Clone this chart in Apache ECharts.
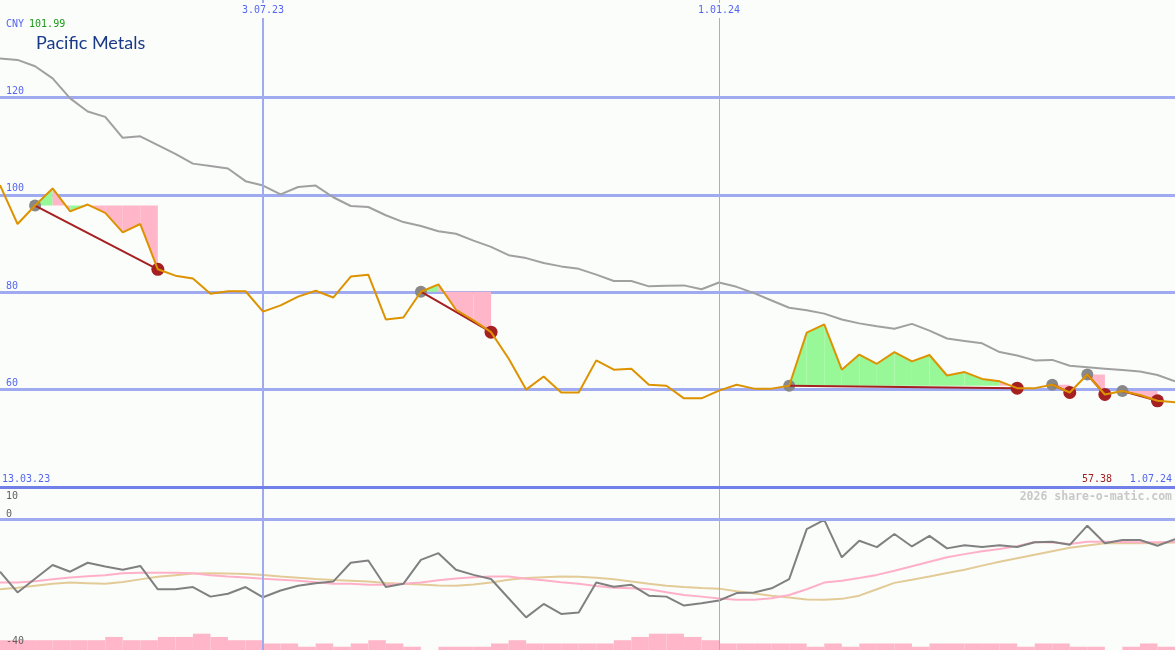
<!DOCTYPE html>
<html><head><meta charset="utf-8">
<script src="https://cdn.jsdelivr.net/npm/echarts@6/dist/echarts.min.js"></script>
<style>html,body{margin:0;padding:0;background:#fbfdfb}#c{width:1175px;height:650px}</style>
</head><body><div id="c"></div>
<script>
// ---------- data ----------
const companyName = 'Pacific Metals';
const currency = 'CNY';
const startLabel = '13.03.23';
const endLabel = '1.07.24';
const watermark = '2026 share-o-matic.com';
const dateTickIndex = [15, 41];
const dateTickLabels = ['3.07.23', '1.01.24'];
const priceTicks = [60, 80, 100, 120];
const indicatorTicks = [10, 0, -40];

// weekly closing price (index 0..67)
const price = [101.99, 94.0, 97.8, 101.3, 96.6, 98.0, 96.3, 92.3, 94.0, 84.7,
  83.4, 82.8, 79.7, 80.2, 80.2, 76.0, 77.3, 79.1, 80.3, 78.9,
  83.2, 83.6, 74.4, 74.8, 80.1, 81.6, 76.4, 74.2, 71.8, 66.4,
  60.0, 62.7, 59.4, 59.4, 66.0, 64.1, 64.3, 61.0, 60.8, 58.2,
  58.2, 59.8, 61.0, 60.2, 60.2, 60.8, 71.7, 73.4, 64.1, 67.2,
  65.3, 67.7, 65.8, 67.1, 62.9, 63.6, 62.2, 61.7, 60.3, 60.3,
  61.0, 59.4, 63.1, 59.0, 59.7, 58.9, 57.7, 57.38];
// moving average (grey)
const priceAvg = [128.0, 127.7, 126.4, 123.9, 119.8, 117.1, 116.0, 111.7, 112.0, 110.2,
  108.4, 106.4, 105.9, 105.4, 102.8, 101.9, 100.1, 101.6, 101.9, 99.5,
  97.7, 97.5, 95.8, 94.4, 93.6, 92.5, 92.0, 90.6, 89.3, 87.6,
  87.0, 86.0, 85.3, 84.8, 83.6, 82.3, 82.3, 81.2, 81.3, 81.4,
  80.6, 82.0, 81.1, 79.8, 78.3, 76.8, 76.3, 75.6, 74.4, 73.6,
  73.0, 72.5, 73.5, 72.1, 70.5, 70.0, 69.5, 67.7, 67.0, 66.0,
  66.1, 64.9, 64.6, 64.3, 64.0, 63.7, 63.0, 61.7];
const buyIdx = [2, 24, 45, 60, 62, 64];
const sellIdx = [9, 28, 58, 61, 63, 66];

// lower panel indicator
const momentum = [-16.5, -23.0, -18.7, -14.4, -16.5, -13.7, -14.9, -15.9, -14.7, -22.0,
  -22.0, -21.3, -24.3, -23.4, -21.3, -24.5, -22.4, -20.9, -20.1, -19.6,
  -13.7, -13.0, -21.3, -20.3, -12.8, -10.7, -15.9, -17.5, -18.8, -24.8,
  -30.8, -26.6, -29.7, -29.3, -19.9, -21.2, -20.6, -24.0, -24.3, -27.1,
  -26.4, -25.5, -23.2, -23.0, -21.7, -18.8, -3.2, -0.3, -12.0, -6.8,
  -8.8, -4.7, -8.6, -5.3, -9.2, -8.2, -8.8, -8.2, -8.8, -7.3,
  -7.1, -8.1, -2.1, -7.6, -6.6, -6.6, -8.4, -6.3];
const momentumFast = [-19.9, -19.9, -19.5, -18.9, -18.3, -17.9, -17.6, -17.0, -16.8, -16.8,
  -16.8, -17.0, -17.6, -18.0, -18.3, -18.7, -19.0, -19.3, -19.8, -20.3,
  -20.3, -20.6, -20.6, -20.3, -19.9, -19.2, -18.6, -18.2, -18.0, -18.0,
  -18.7, -19.2, -19.8, -20.3, -21.0, -21.5, -21.7, -22.0, -22.9, -23.8,
  -24.3, -24.9, -25.3, -25.3, -24.8, -23.8, -22.0, -19.9, -19.3, -18.5,
  -17.5, -16.2, -14.8, -13.4, -12.0, -11.0, -10.1, -9.4, -8.5, -7.2,
  -7.4, -7.8, -7.1, -7.1, -7.2, -7.3, -7.3, -7.1];
const momentumSlow = [-22.0, -21.5, -20.9, -20.3, -19.9, -20.1, -20.3, -19.7, -18.9, -18.1,
  -17.6, -17.1, -17.0, -17.1, -17.2, -17.5, -18.0, -18.4, -18.8, -19.1,
  -19.3, -19.6, -20.0, -20.3, -20.5, -20.8, -20.9, -20.5, -19.9, -19.0,
  -18.5, -18.2, -18.0, -18.1, -18.4, -18.9, -19.6, -20.3, -20.9, -21.3,
  -21.6, -21.8, -22.6, -23.3, -24.0, -24.6, -25.2, -25.3, -25.0, -24.0,
  -22.0, -20.0, -19.0, -18.0, -16.9, -15.9, -14.6, -13.4, -12.3, -11.2,
  -10.1, -9.0, -8.3, -7.6, -7.6, -7.6, -7.5, -7.4];
// volume blocks (relative units), one per week interval
const volume = [3, 3, 3, 3, 3, 3, 4, 3, 3, 4,
  4, 5, 4, 3, 3, 2, 2, 1, 2, 1,
  2, 3, 2, 1, 0, 1, 1, 1, 2, 3,
  2, 2, 2, 2, 2, 3, 4, 5, 5, 4,
  3, 2, 2, 2, 2, 2, 1, 2, 1, 2,
  2, 2, 1, 2, 2, 2, 2, 2, 1, 2,
  2, 1, 1, 0, 1, 2, 1];

// ---------- build ----------
const N = price.length - 1;
const MONO = 'DejaVu Sans Mono';
const GRIDC = '#a0aaf0';
const BG = '#fbfdfb';
const pairs = arr => arr.map((v, i) => [i, v]);

const fillData = [];
buyIdx.forEach((b, t) => {
  const s = sellIdx[t], e = price[b];
  for (let k = b; k < s; k++) fillData.push([k, k + 1, e, price[k], price[k + 1]]);
});
const tradeLines = buyIdx.map((b, t) => ({ coords: [[b, price[b]], [sellIdx[t], price[sellIdx[t]]]] }));

const monoText = (color, extra) => Object.assign({ color: color, fontFamily: MONO, fontSize: 10, fontWeight: 'normal', lineHeight: 12 }, extra || {});

const chart = echarts.init(document.getElementById('c'), null, { renderer: 'canvas' });
chart.setOption({
  animation: false,
  backgroundColor: BG,
  title: [
    { left: 6, top: 15, padding: 0, text: '{a|' + currency + '} {b|' + price[0].toFixed(2) + '}',
      textStyle: { fontWeight: 'normal', rich: { a: monoText('#5566ee'), b: monoText('#1a9a1a') } } },
    { left: 36, top: 33, padding: 0, text: companyName,
      textStyle: { color: '#183a88', fontFamily: 'Lato', fontSize: 18, fontWeight: 'normal', lineHeight: 20 } },
    { left: 2, top: 473, padding: 0, text: startLabel, textStyle: monoText('#5566ee') },
    { right: 63, top: 473, padding: 0, text: price[N].toFixed(2), textStyle: monoText('#a02020') },
    { right: 3, top: 473, padding: 0, text: endLabel, textStyle: monoText('#5566ee') },
    { right: 3, top: 491, padding: 0, text: watermark,
      textStyle: { color: '#c8c8c8', fontFamily: MONO, fontSize: 11.5, fontWeight: 'bold', lineHeight: 13 } }
  ],
  grid: [
    { left: 0, right: 0, top: 0, height: 487 },
    { left: 0, right: 0, top: 487, height: 163 }
  ],
  xAxis: [
    { gridIndex: 0, type: 'value', min: 0, max: N, position: 'top', z: 10,
      axisLine: { show: false, onZero: false }, axisTick: { show: false }, splitLine: { show: false },
      axisLabel: { inside: true, margin: 3, customValues: dateTickIndex,
        formatter: v => dateTickLabels[dateTickIndex.indexOf(v)],
        color: '#5566ee', fontFamily: MONO, fontSize: 10, lineHeight: 10,
        backgroundColor: BG, padding: [2, 3, 3, 3] } },
    { gridIndex: 1, type: 'value', min: 0, max: N, position: 'top', z: 10,
      axisLine: { show: true, onZero: false, lineStyle: { color: '#7080e8', width: 3 } },
      axisTick: { show: false }, splitLine: { show: false }, axisLabel: { show: false } }
  ],
  yAxis: [
    { gridIndex: 0, type: 'value', position: 'left', min: 40, max: 140, interval: 20,
      axisLine: { show: false }, axisTick: { show: false },
      splitLine: { show: true, showMinLine: false, showMaxLine: false, lineStyle: { color: GRIDC, width: 3 } },
      axisLabel: { inside: true, margin: 6, customValues: priceTicks, verticalAlign: 'bottom',
        color: '#5566ee', fontFamily: MONO, fontSize: 10, lineHeight: 10, padding: [0, 0, 1, 0] } },
    { gridIndex: 1, type: 'value', position: 'left', offset: 0, min: -41, max: 10, z: 10,
      axisLine: { show: false, onZero: false }, axisTick: { show: false }, splitLine: { show: false },
      axisLabel: { inside: true, margin: 6, customValues: indicatorTicks.filter(v => v < 10), verticalAlign: 'bottom',
        color: '#606060', fontFamily: MONO, fontSize: 10, lineHeight: 10, padding: [0, 0, 0, 0] } },
    { gridIndex: 1, type: 'value', position: 'left', offset: 0, min: -41, max: 10, z: 10,
      axisLine: { show: false, onZero: false }, axisTick: { show: false }, splitLine: { show: false },
      axisLabel: { inside: true, margin: 6, customValues: indicatorTicks.filter(v => v >= 10), verticalAlign: 'top',
        color: '#606060', fontFamily: MONO, fontSize: 10, lineHeight: 10, padding: [4, 0, 0, 0] } },
    { gridIndex: 1, type: 'value', position: 'left', min: 0, max: 50, show: false }
  ],
  series: [
    { type: 'line', xAxisIndex: 0, yAxisIndex: 0, data: pairs(priceAvg), showSymbol: false, z: 2,
      lineStyle: { color: '#a0a0a0', width: 2 },
      markLine: { silent: true, symbol: 'none', label: { show: false }, animation: false,
        lineStyle: { color: GRIDC, type: 'solid' },
        data: [{ xAxis: dateTickIndex[0], lineStyle: { width: 2 } }, { xAxis: dateTickIndex[1], lineStyle: { width: 1 } }] } },
    { type: 'custom', xAxisIndex: 0, yAxisIndex: 0, data: fillData, z: 3, clip: true,
      encode: { x: [0, 1], y: [2, 3, 4] },
      renderItem: (params, api) => {
        const k0 = api.value(0), k1 = api.value(1), e = api.value(2), p0 = api.value(3), p1 = api.value(4);
        return { type: 'polygon',
          shape: { points: [api.coord([k0, e]), api.coord([k0, p0]), api.coord([k1, p1]), api.coord([k1, e])] },
          style: { fill: p1 >= e ? '#98f898' : '#ffb6c8' } };
      } },
    { type: 'scatter', xAxisIndex: 0, yAxisIndex: 0, z: 4, symbolSize: 12,
      data: buyIdx.map(i => [i, price[i]]), itemStyle: { color: '#888888', opacity: 1 } },
    { type: 'scatter', xAxisIndex: 0, yAxisIndex: 0, z: 4, symbolSize: 13,
      data: sellIdx.map(i => [i, price[i]]), itemStyle: { color: '#a52020', opacity: 1 } },
    { type: 'lines', coordinateSystem: 'cartesian2d', xAxisIndex: 0, yAxisIndex: 0, z: 5,
      data: tradeLines, lineStyle: { color: '#a52020', width: 2, opacity: 1, curveness: 0 } },
    { type: 'line', xAxisIndex: 0, yAxisIndex: 0, data: pairs(price), showSymbol: false, z: 6,
      lineStyle: { color: '#dd9300', width: 2 } },

    { type: 'custom', xAxisIndex: 1, yAxisIndex: 3, data: pairs(volume), z: 4, clip: true,
      renderItem: (params, api) => {
        const k = api.value(0), v = api.value(1);
        const a = api.coord([k, v]), b = api.coord([k + 1, 0]);
        return { type: 'rect', shape: { x: a[0], y: a[1], width: b[0] - a[0], height: b[1] - a[1] },
          style: { fill: '#ffb6c8' } };
      } },
    { type: 'line', xAxisIndex: 1, yAxisIndex: 1, data: pairs(momentumSlow), showSymbol: false, z: 2,
      lineStyle: { color: '#e3cb98', width: 2 },
      markLine: { silent: true, symbol: 'none', label: { show: false }, animation: false,
        lineStyle: { color: GRIDC, type: 'solid' },
        data: [{ yAxis: 0, lineStyle: { width: 3 } },
               { xAxis: dateTickIndex[0], lineStyle: { width: 2 } },
               { xAxis: dateTickIndex[1], lineStyle: { width: 1 } }] } },
    { type: 'line', xAxisIndex: 1, yAxisIndex: 1, data: pairs(momentumFast), showSymbol: false, z: 2,
      lineStyle: { color: '#ffb0c8', width: 2 } },
    { type: 'line', xAxisIndex: 1, yAxisIndex: 1, data: pairs(momentum), showSymbol: false, z: 3,
      lineStyle: { color: '#808080', width: 2 } }
  ]
});
</script>
</body></html>
